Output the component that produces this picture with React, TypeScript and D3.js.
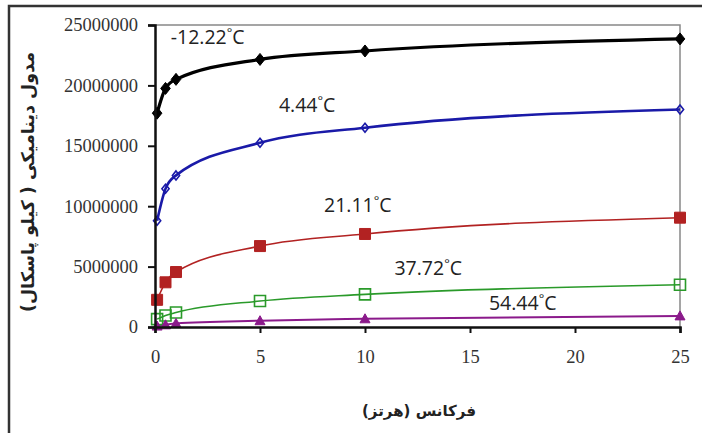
import React, { useRef, useEffect } from 'react';
import * as d3 from 'd3';

const freqs = [0.1, 0.5, 1, 5, 10, 25];
const temps = ['-12.22', '4.44', '21.11', '37.72', '54.44'];
const modM12 = [17700000, 19750000, 20500000, 22150000, 22850000, 23850000];
const mod4 = [8800000, 11450000, 12550000, 15250000, 16500000, 18000000];
const mod21 = [2250000, 3700000, 4550000, 6700000, 7700000, 9050000];
const mod37 = [650000, 950000, 1200000, 2150000, 2700000, 3500000];
const mod54 = [80000, 180000, 300000, 520000, 680000, 920000];
const yTicks = [0, 5000000, 10000000, 15000000, 20000000, 25000000];
const xTicks = [0, 5, 10, 15, 20, 25];

const W = 702;
const H = 433;

const Chart: React.FC = () => {
  const svgRef = useRef<SVGSVGElement | null>(null);

  useEffect(() => {
    if (!svgRef.current) return;
    const svg = d3.select(svgRef.current);
    svg.selectAll('*').remove();

    const margin = { top: 25, right: 22, bottom: 106, left: 155 };
    const x = d3.scaleLinear().domain([0, 25]).range([margin.left, W - margin.right]);
    const y = d3.scaleLinear().domain([0, 25000000]).range([H - margin.bottom, margin.top]);

    // outer frame
    svg.append('path')
      .attr('d', `M9,${H} L9,6 L${W},6`)
      .attr('fill', 'none')
      .attr('stroke', '#333')
      .attr('stroke-width', 2.5);

    // top / right plot border
    svg.append('path')
      .attr('d', `M${x(0)},${y(25000000)} L${x(25)},${y(25000000)} L${x(25)},${y(0)}`)
      .attr('fill', 'none')
      .attr('stroke', '#888')
      .attr('stroke-width', 1.5);

    const series = [
      { vals: modM12, color: '#000000', width: 3.2, marker: 'diamond', filled: true, size: 12 },
      { vals: mod4, color: '#1a1aa8', width: 2.6, marker: 'diamond', filled: false, size: 9 },
      { vals: mod21, color: '#b22222', width: 1.6, marker: 'square', filled: true, size: 11 },
      { vals: mod37, color: '#2a9a2a', width: 1.6, marker: 'square', filled: false, size: 11 },
      { vals: mod54, color: '#8b1a8b', width: 2, marker: 'triangle', filled: true, size: 10 },
    ];

    const line = d3.line<[number, number]>()
      .x(d => x(d[0]))
      .y(d => y(d[1]))
      .curve(d3.curveMonotoneX);

    series.forEach(s => {
      const pts = freqs.map((f, i) => [f, s.vals[i]] as [number, number]);
      svg.append('path')
        .datum(pts)
        .attr('fill', 'none')
        .attr('stroke', s.color)
        .attr('stroke-width', s.width)
        .attr('d', line);
    });

    series.forEach(s => {
      const pts = freqs.map((f, i) => [f, s.vals[i]] as [number, number]);
      svg.append('g').selectAll('path')
        .data(pts)
        .join('path')
        .attr('transform', d => `translate(${x(d[0])},${y(d[1])})`)
        .attr('d', () => {
          const h = s.size / 2;
          if (s.marker === 'diamond') return `M0,${-h} L${h * 0.8},0 L0,${h} L${-h * 0.8},0 Z`;
          if (s.marker === 'square') return `M${-h},${-h} H${h} V${h} H${-h} Z`;
          return `M0,${-h} L${h},${h * 0.8} L${-h},${h * 0.8} Z`;
        })
        .attr('fill', s.filled ? s.color : '#fff')
        .attr('fill-opacity', s.filled ? 1 : 0)
        .attr('stroke', s.color)
        .attr('stroke-width', s.filled ? 1 : 1.6);
    });

    // axes
    const gy = svg.append('g')
      .attr('transform', `translate(${x(0)},0)`)
      .call(d3.axisLeft(y).tickValues(yTicks).tickSize(7).tickPadding(10).tickFormat(d3.format('d')));
    gy.select('.domain').attr('stroke', '#111').attr('stroke-width', 2.5);
    gy.selectAll('line').attr('stroke', '#111').attr('stroke-width', 2);
    gy.selectAll('text')
      .attr('font-family', '"Liberation Serif", serif')
      .attr('font-size', 18.5)
      .attr('fill', '#333');

    const gx = svg.append('g')
      .attr('transform', `translate(0,${y(0)})`)
      .call(d3.axisBottom(x).tickValues(xTicks).tickSize(6).tickPadding(17));
    gx.select('.domain').attr('stroke', '#111').attr('stroke-width', 2.5);
    gx.selectAll('line').attr('stroke', '#111').attr('stroke-width', 2);
    gx.selectAll('text')
      .attr('font-family', '"Liberation Serif", serif')
      .attr('font-size', 18.5)
      .attr('fill', '#333');

    // series labels
    const labelPos: [number, number][] = [[0.75, 23400000], [5.9, 17800000], [8.05, 9500000], [11.4, 4300000], [15.9, 1400000]];
    temps.forEach((t, i) => {
      const txt = svg.append('text')
        .attr('x', x(labelPos[i][0]))
        .attr('y', y(labelPos[i][1]))
        .attr('font-family', '"Open Sans", sans-serif')
        .attr('font-size', 19.5)
        .attr('fill', '#222');
      txt.append('tspan').text(t);
      txt.append('tspan').text('°').attr('font-size', 13).attr('dy', -7);
      txt.append('tspan').text('C').attr('dy', 7);
    });

    // axis titles
    svg.append('text')
      .attr('transform', `translate(34,${(y(0) + y(25000000)) / 2 + 6}) rotate(-90)`)
      .attr('text-anchor', 'middle')
      .attr('font-family', '"DejaVu Sans", sans-serif')
      .attr('font-weight', 'bold')
      .attr('font-size', 17.5)
      .attr('fill', '#222')
      .text('مدول دینامیکی ( کیلو پاسکال)');

    svg.append('text')
      .attr('x', 419)
      .attr('y', 416)
      .attr('text-anchor', 'middle')
      .attr('font-family', '"DejaVu Sans", sans-serif')
      .attr('font-weight', 'bold')
      .attr('font-size', 15)
      .attr('fill', '#222')
      .text('فرکانس (هرتز)');
  }, []);

  return <svg ref={svgRef} width={W} height={H} style={{ position: 'absolute', left: 0, top: 0, background: '#fff' }}></svg>;
};

export default function App() {
  return <Chart />;
}
